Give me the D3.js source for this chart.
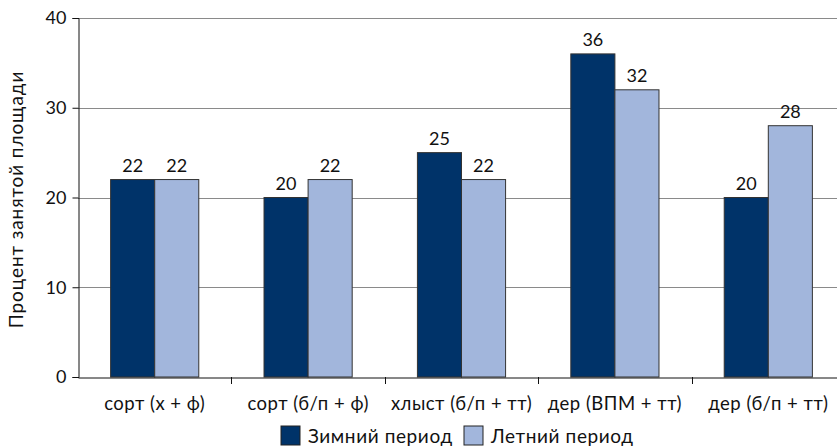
<!DOCTYPE html>
<html>
<head>
<meta charset="utf-8">
<script src="https://cdn.jsdelivr.net/npm/d3@7"></script>
<style>
  html, body { margin: 0; padding: 0; background: #fff; }
  svg { display: block; }
  text { font-family: Lato, "Open Sans", sans-serif; fill: #111; }
</style>
</head>
<body>
<div id="chart"></div>
<script>
// Categories and series
const categories = ["сорт (х + ф)", "сорт (б/п + ф)", "хлыст (б/п + тт)", "дер (ВПМ + тт)", "дер (б/п + тт)"];
const winter = [22, 20, 25, 36, 20];
const summer = [22, 22, 22, 32, 28];
const seriesNames = ["Зимний период", "Летний период"];
const yTicks = [0, 10, 20, 30, 40];

const colors = ["#003369", "#a2b6dc"];
const labelFont = "'Open Sans', Lato, sans-serif";

const W = 837, H = 448;
const margin = { left: 78, top: 18, bottom: 71 };
const plotRight = 845;

const svg = d3.select("#chart").append("svg").attr("width", W).attr("height", H);

const x = d3.scaleBand().domain(categories).range([margin.left, plotRight]);
const y = d3.scaleLinear().domain([0, 40]).range([H - margin.bottom, margin.top]);

// Two bars per category, centred, each about 29% of the category width
const x1 = d3.scaleBand().domain([0, 1]).range([0, x.bandwidth()]).paddingInner(0).paddingOuter(0.74);

// Gridlines
svg.append("g").selectAll("line").data(yTicks.filter(d => d > 0)).join("line")
  .attr("x1", margin.left).attr("x2", W)
  .attr("y1", d => Math.round(y(d)) + 0.5).attr("y2", d => Math.round(y(d)) + 0.5)
  .attr("stroke", "#8a8a8a").attr("stroke-width", 1);

// Bars
const groups = svg.append("g").selectAll("g").data(categories).join("g")
  .attr("transform", d => `translate(${x(d)},0)`);

groups.selectAll("rect").data((d, i) => [winter[i], summer[i]]).join("rect")
  .attr("x", (d, j) => x1(j))
  .attr("width", x1.bandwidth())
  .attr("y", d => y(d))
  .attr("height", d => y(0) - y(d))
  .attr("fill", (d, j) => colors[j])
  .attr("stroke", "#333")
  .attr("stroke-width", 1);

groups.selectAll("text.val").data((d, i) => [winter[i], summer[i]]).join("text")
  .attr("class", "val")
  .attr("x", (d, j) => x1(j) + x1.bandwidth() / 2)
  .attr("y", d => y(d) - 8)
  .attr("text-anchor", "middle")
  .attr("font-size", 18)
  .text(d => d);

// Y axis
const yAxis = d3.axisLeft(y).tickValues(yTicks).tickSize(6).tickPadding(6).tickFormat(d3.format("d"));
const gy = svg.append("g").attr("transform", `translate(${margin.left + 0.5},0)`).call(yAxis);
gy.select(".domain").attr("stroke", "#111");
gy.selectAll(".tick line").attr("stroke", "#111");
gy.selectAll(".tick text").attr("font-size", 18).attr("font-family", "Lato, 'Open Sans', sans-serif").attr("fill", "#111");

// X axis
const xAxis = d3.axisBottom(x).tickSize(0).tickPadding(19);
const gx = svg.append("g").attr("transform", `translate(0,${Math.round(y(0)) + 0.5})`).call(xAxis);
gx.select(".domain").attr("stroke", "#111");
gx.selectAll(".tick text").attr("font-size", 18.5).attr("letter-spacing", 0.5)
  .attr("font-family", labelFont).attr("fill", "#111");

// Category separators below the axis
svg.append("g").selectAll("line").data(categories.slice(1)).join("line")
  .attr("x1", d => Math.round(x(d)) + 0.5).attr("x2", d => Math.round(x(d)) + 0.5)
  .attr("y1", y(0)).attr("y2", y(0) + 7)
  .attr("stroke", "#111");

// Y axis title
svg.append("text")
  .attr("transform", `translate(23,${(y(0) + y(40)) / 2 + 2}) rotate(-90)`)
  .attr("text-anchor", "middle")
  .attr("font-family", labelFont)
  .attr("font-size", 19)
  .attr("letter-spacing", 0.9)
  .text("Процент занятой площади");

// Legend
const legendItems = [{ x: 281, name: seriesNames[0], c: colors[0] }, { x: 464, name: seriesNames[1], c: colors[1] }];
const lg = svg.append("g").selectAll("g").data(legendItems).join("g")
  .attr("transform", d => `translate(${d.x},426)`);
lg.append("rect").attr("width", 19).attr("height", 19).attr("fill", d => d.c).attr("stroke", "#222");
lg.append("text").attr("x", 27).attr("y", 17).attr("font-family", labelFont).attr("font-size", 19)
  .attr("letter-spacing", 0.6).text(d => d.name);
</script>
</body>
</html>
